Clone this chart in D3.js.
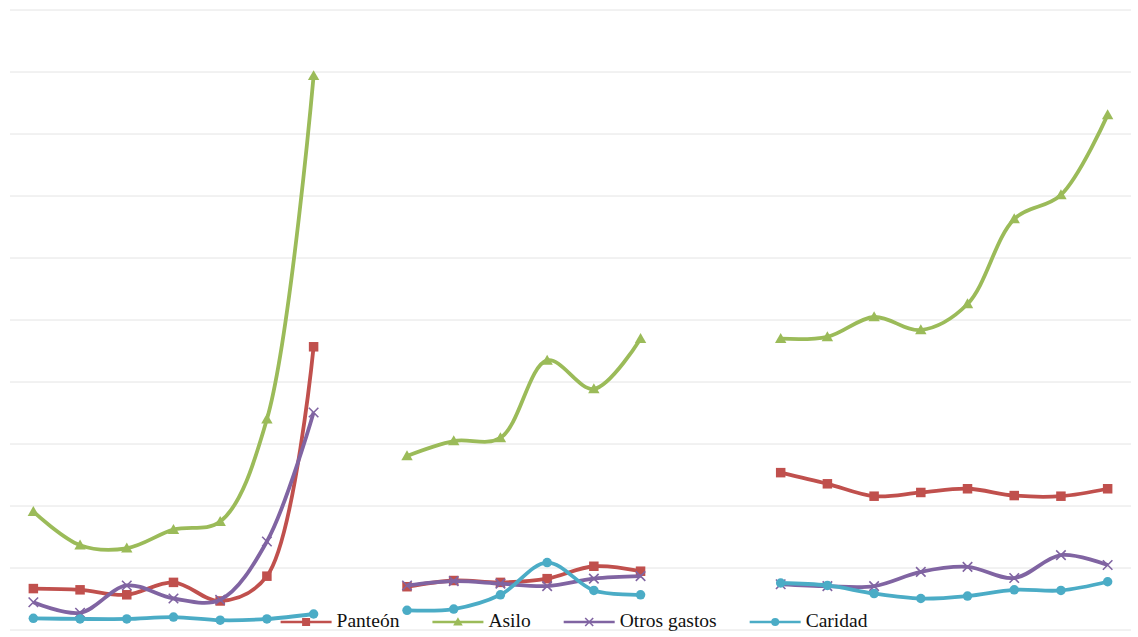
<!DOCTYPE html>
<html>
<head>
<meta charset="utf-8">
<script src="https://cdn.jsdelivr.net/npm/d3@7"></script>
<style>
  html, body { margin: 0; padding: 0; background: #fff; }
  svg { display: block; }
  .legend text { font-family: "Liberation Serif", "DejaVu Serif", serif; font-size: 19.5px; fill: #111; }
</style>
</head>
<body>
<script>
// 24 time slots across three periods; null marks the breaks between periods
const slots = d3.range(24);

const panteon = [0.66, 0.64, 0.56, 0.76, 0.46, 0.86, 4.56, null,
                 0.69, 0.79, 0.76, 0.82, 1.02, 0.94, null, null,
                 2.53, 2.35, 2.15, 2.21, 2.27, 2.16, 2.15, 2.27];
const asilo   = [1.90, 1.36, 1.31, 1.61, 1.74, 3.39, 8.93, null,
                 2.80, 3.04, 3.09, 4.34, 3.88, 4.69, null, null,
                 4.69, 4.72, 5.04, 4.83, 5.25, 6.62, 7.01, 8.30];
const otros   = [0.44, 0.27, 0.71, 0.50, 0.48, 1.42, 3.50, null,
                 0.71, 0.78, 0.74, 0.70, 0.82, 0.86, null, null,
                 0.73, 0.70, 0.70, 0.93, 1.01, 0.83, 1.20, 1.04];
const caridad = [0.18, 0.17, 0.17, 0.20, 0.15, 0.17, 0.25, null,
                 0.31, 0.33, 0.56, 1.08, 0.63, 0.56, null, null,
                 0.75, 0.71, 0.58, 0.50, 0.54, 0.64, 0.63, 0.77];

const seriesNames = ["Panteón", "Asilo", "Otros gastos", "Caridad"];
const yTicks = d3.range(0, 11);

const series = [
  { name: seriesNames[0], values: panteon, color: "#C0504D", marker: "square" },
  { name: seriesNames[1], values: asilo,   color: "#9BBB59", marker: "triangle" },
  { name: seriesNames[2], values: otros,   color: "#8064A2", marker: "cross" },
  { name: seriesNames[3], values: caridad, color: "#4BACC6", marker: "circle" }
];

const W = 1138, H = 637;
const svg = d3.select("body").append("svg").attr("width", W).attr("height", H);

const x = d3.scaleBand().domain(slots).range([10, 1131]);
const y = d3.scaleLinear().domain([0, 10]).range([629.5, 9.5]);
const cx = i => x(i) + x.bandwidth() / 2;

// horizontal gridlines
const yAxis = d3.axisLeft(y).tickValues(yTicks).tickSize(-(1131 - 10)).tickFormat("");
svg.append("g")
  .attr("transform", "translate(10,0)")
  .call(yAxis)
  .call(g => g.select(".domain").remove())
  .call(g => g.selectAll(".tick line").attr("stroke", "#e4e4e4").attr("stroke-width", 1));

const line = d3.line()
  .defined(d => d.v != null)
  .x(d => cx(d.i))
  .y(d => y(d.v))
  .curve(d3.curveCatmullRom.alpha(0.5));

function drawMarker(g, kind, color, size) {
  if (kind === "square") {
    g.append("rect").attr("x", -size / 2).attr("y", -size / 2)
      .attr("width", size).attr("height", size).attr("fill", color);
  } else if (kind === "triangle") {
    const s = size * 0.6;
    g.append("path").attr("d", `M0,${-s}L${s},${s * 0.75}L${-s},${s * 0.75}Z`).attr("fill", color);
  } else if (kind === "cross") {
    const s = size / 2;
    g.append("path").attr("d", `M${-s},${-s}L${s},${s}M${-s},${s}L${s},${-s}`)
      .attr("stroke", color).attr("stroke-width", 1.6).attr("fill", "none");
  } else if (kind === "circle") {
    g.append("circle").attr("r", size / 2).attr("fill", color);
  }
}

const plot = svg.append("g");
series.forEach(s => {
  const pts = s.values.map((v, i) => ({ i, v }));
  const g = plot.append("g");
  g.append("path")
    .datum(pts)
    .attr("d", line)
    .attr("fill", "none")
    .attr("stroke", s.color)
    .attr("stroke-width", 3.8)
    .attr("stroke-linejoin", "round");
  pts.filter(d => d.v != null).forEach(d => {
    const m = g.append("g").attr("transform", `translate(${cx(d.i)},${y(d.v)})`);
    drawMarker(m, s.marker, s.color, 9.5);
  });
});

// legend along the bottom
const legend = svg.append("g").attr("class", "legend");
const lineLen = 51, textGap = 5, itemGap = 33;
let cursor = 0;
series.forEach(s => {
  const g = legend.append("g");
  g.append("line").attr("x1", 0).attr("x2", lineLen).attr("y1", 0).attr("y2", 0)
    .attr("stroke", s.color).attr("stroke-width", 2.6);
  const m = g.append("g").attr("transform", `translate(${lineLen / 2},0)`);
  drawMarker(m, s.marker, s.color, 8);
  const t = g.append("text").attr("x", lineLen + textGap).attr("y", 5).text(s.name);
  const w = lineLen + textGap + t.node().getComputedTextLength();
  g.attr("transform", `translate(${cursor},0)`);
  cursor += w + itemGap;
});
const total = cursor - itemGap;
legend.attr("transform", `translate(${574 - total / 2},622)`);
</script>
</body>
</html>
